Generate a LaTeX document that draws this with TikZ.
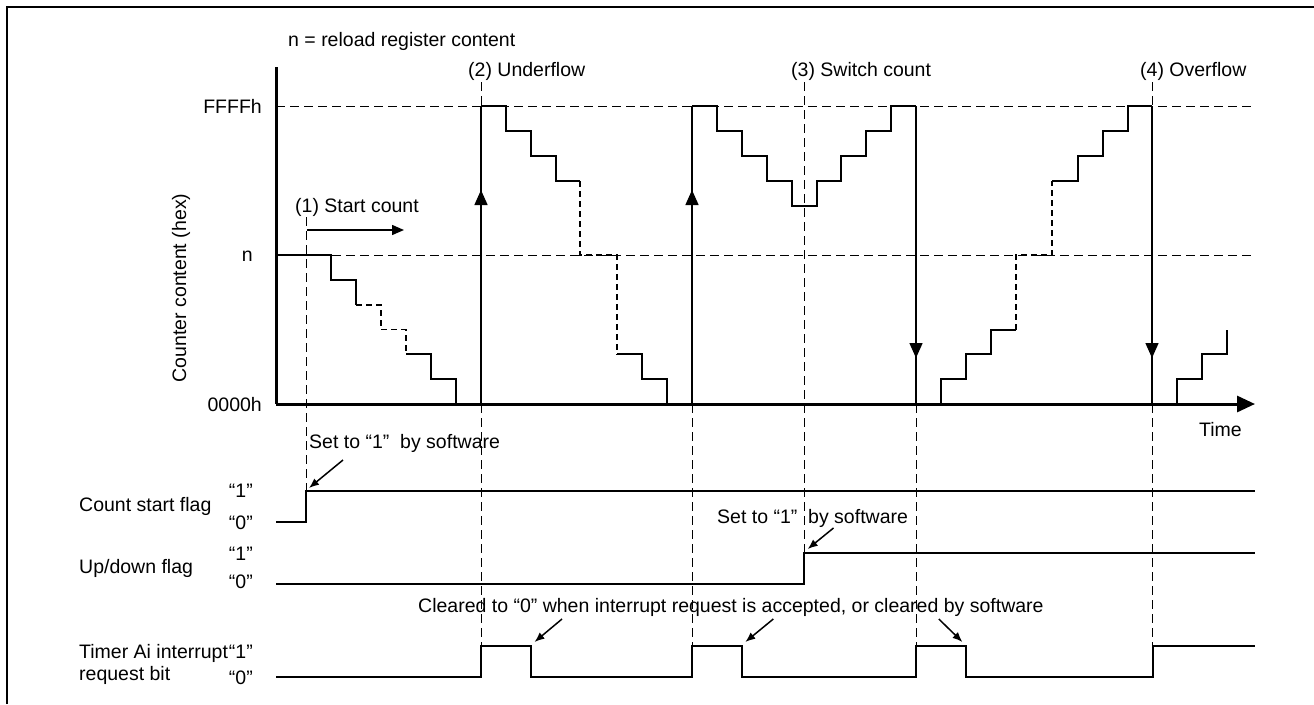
\documentclass[tikz,border=0pt]{standalone}
\usepackage{fontspec}
\setmainfont{Liberation Sans}
\usetikzlibrary{arrows.meta}
\tikzset{
  lbl/.style={inner sep=0pt, font=\fontsize{19.5}{23}\selectfont},
  axisline/.style={line width=3pt},
  stepline/.style={line width=2pt, line join=miter},
  stepdash/.style={line width=1.6pt, dash pattern=on 6pt off 4pt},
  guide/.style={line width=1pt, dash pattern=on 9pt off 5pt},
  sigline/.style={line width=2pt},
  vtip/.style={-{Triangle[length=15pt,width=13pt]}, line width=1.5pt},
  note/.style={-{Latex[length=10pt,width=8pt]}, line width=1.5pt},
}
\begin{document}
\begin{tikzpicture}[x=1pt,y=-1pt]
\useasboundingbox (0,0) rectangle (1314,704);
% frame
\draw[line width=2.5pt] (7,704) -- (7,7) -- (1314,7);

% guide dashed horizontals
\draw[guide] (276,106) -- (1254,106);
\draw[guide] (276,255) -- (1254,255);
% guide dashed verticals
\draw[guide] (306,217) -- (306,491);
\draw[guide] (481,82) -- (481,646);
\draw[guide] (692,404) -- (692,646);
\draw[guide] (804,82) -- (804,553);
\draw[guide] (916,404) -- (916,646);
\draw[guide] (1152,82) -- (1152,646);

% axes
\draw[axisline] (276,67) -- (276,404);
\draw[axisline, -{Triangle[length=18pt,width=16pt]}] (276,404) -- (1255,404);

% staircase 1
\draw[stepline] (276,255) -- (331,255) -- (331,280) -- (356,280) -- (356,305);
\draw[stepdash] (356,305) -- (381,305) -- (381,329.6) -- (406,329.6) -- (406,354.4);
\draw[stepline] (406,354.4) -- (431,354.4) -- (431,379.2) -- (456,379.2) -- (456,404);
% underflow
\draw[stepline] (481,404) -- (481,106);
\draw[vtip] (481,215) -- (481,190);
\draw[stepline] (481,106) -- (506,106) -- (506,131) -- (531,131) -- (531,156) -- (556,156) -- (556,181) -- (580,181);
\draw[stepdash] (580,181) -- (580,255) -- (617,255) -- (617,354.4);
\draw[stepline] (617,354.4) -- (642,354.4) -- (642,379.2) -- (667,379.2) -- (667,404);
% second underflow
\draw[stepline] (692,404) -- (692,106);
\draw[vtip] (692,215) -- (692,190);
\draw[stepline] (692,106) -- (717,106) -- (717,131) -- (742,131) -- (742,156) -- (767,156) -- (767,181) -- (792,181) -- (792,205.6) -- (817,205.6) -- (817,181) -- (841,181) -- (841,156) -- (866,156) -- (866,131) -- (891,131) -- (891,106) -- (916,106);
% overflow 1
\draw[stepline] (916,106) -- (916,404);
\draw[vtip] (916,333) -- (916,358);
\draw[stepline] (941,404) -- (941,379.2) -- (966,379.2) -- (966,354.4) -- (991,354.4) -- (991,329.6) -- (1016,329.6);
\draw[stepdash] (1016,329.6) -- (1016,255) -- (1052,255) -- (1052,181);
\draw[stepline] (1052,181) -- (1077.5,181) -- (1077.5,156) -- (1103,156) -- (1103,131) -- (1128,131) -- (1128,106) -- (1152,106);
% overflow 2
\draw[stepline] (1152,106) -- (1152,404);
\draw[vtip] (1152,333) -- (1152,358);
\draw[stepline] (1177,404) -- (1177,379.2) -- (1202,379.2) -- (1202,354.4) -- (1227,354.4) -- (1227,329.6);

% start count arrow
\draw[line width=1.5pt, -{Triangle[length=12pt,width=10pt]}] (307,230) -- (404,230);

% labels top
\node[lbl, anchor=base west] (t0) at (288,46.5) {n = reload register content};
\node[lbl, anchor=base west] (t2) at (468,76) {(2) Underflow};
\node[lbl, anchor=base west] (t3) at (791,76) {(3) Switch count};
\node[lbl, anchor=base west] (t4) at (1140,76) {(4) Overflow};
\node[lbl, anchor=base west] (t1) at (295,212) {(1) Start count};
\node[lbl, anchor=base east] (yF) at (262,113) {FFFFh};
\node[lbl, anchor=base east] (yn) at (253,261) {n};
\node[lbl, anchor=base east] (y0) at (262,411) {0000h};
\node[lbl, rotate=90] (yl) at (181,288) {Counter content (hex)};
\node[lbl, anchor=base west] (tt) at (1199,436) {Time};

% signals
\draw[sigline] (276,521.7) -- (306.4,521.7) -- (306.4,490.7) -- (1255,490.7);
\draw[sigline] (276,583.7) -- (804,583.7) -- (804,552.7) -- (1255,552.7);
\draw[sigline] (276,676.7) -- (481,676.7) -- (481,645.7) -- (530.5,645.7) -- (530.5,676.7) -- (692,676.7) -- (692,645.7) -- (742,645.7) -- (742,676.7) -- (916,676.7) -- (916,645.7) -- (966,645.7) -- (966,676.7) -- (1152.5,676.7) -- (1152.5,645.7) -- (1255,645.7);

% signal labels
\node[lbl, anchor=base west] (s1) at (79,511.5) {Count start flag};
\node[lbl, anchor=base west] (s2) at (79,573) {Up/down flag};
\node[lbl, anchor=base west] (s3) at (79,658) {Timer Ai interrupt};
\node[lbl, anchor=base west] (s3b) at (79,680) {request bit};
\node[lbl, anchor=base east] (c1a) at (253,497) {“1”};
\node[lbl, anchor=base east] (c1b) at (253,529) {“0”};
\node[lbl, anchor=base east] (c2a) at (253,560) {“1”};
\node[lbl, anchor=base east] (c2b) at (253,588) {“0”};
\node[lbl, anchor=base east] (c3a) at (253,658) {“1”};
\node[lbl, anchor=base east] (c3b) at (253,684) {“0”};

% notes
\node[lbl, anchor=base west] (n1) at (309,448) {Set to “1”\ \ by software};
\node[lbl, anchor=base west] (n2) at (717,523) {Set to “1”\ \ by software};
\node[lbl, anchor=base west] (n3) at (418,612.7) {Cleared to “0” when interrupt request is accepted, or cleared by software};
\draw[note] (343,460) -- (309,488);
\draw[note] (833.5,528) -- (807.7,549);
\draw[note] (562,619) -- (534.5,642);
\draw[note] (773.3,619) -- (745.3,642);
\draw[note] (938.8,619) -- (962.4,642);
\end{tikzpicture}
\end{document}
